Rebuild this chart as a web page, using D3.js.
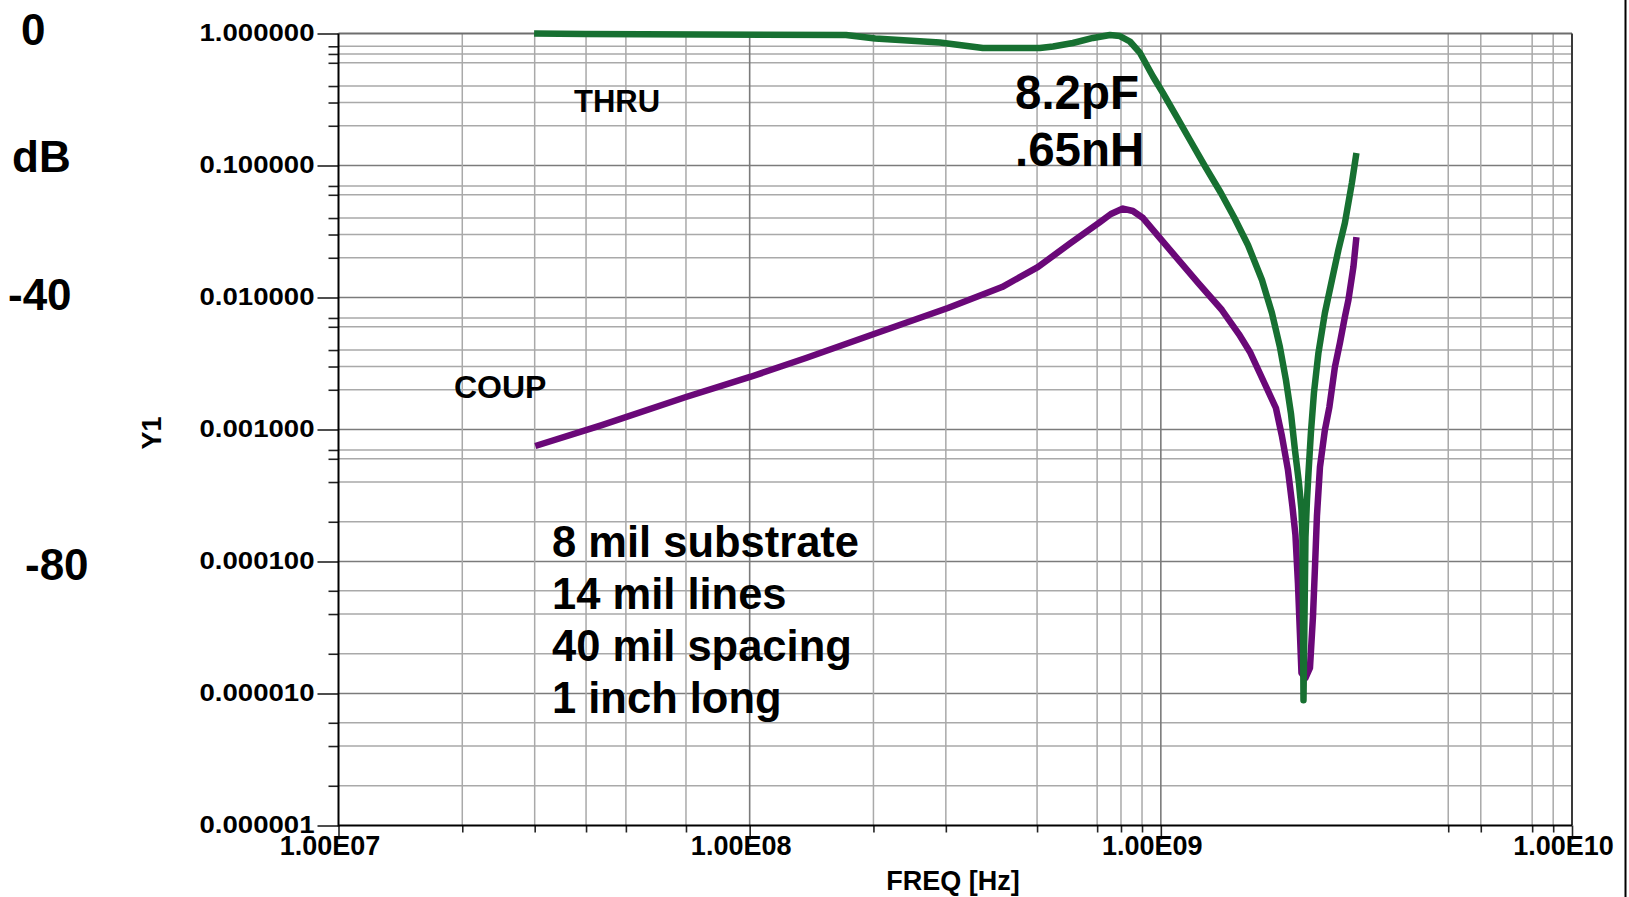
<!DOCTYPE html>
<html><head><meta charset="utf-8">
<script src="https://cdn.jsdelivr.net/npm/d3@7"></script>
<style>
html,body{margin:0;padding:0;background:#fff;}
svg{display:block;}
text{font-family:"Liberation Sans",Arial,sans-serif;font-weight:bold;fill:#000;}
</style></head><body>
<svg id="chart" width="1629" height="897"></svg>
<script>
// ---------- DATA ----------
const thruFreq = [2.99e7, 3.98e7, 7.57e7, 1.715e8, 2.02e8, 2.90e8, 3.69e8, 5.08e8, 5.47e8, 6.11e8, 6.84e8, 7.52e8, 7.95e8, 8.41e8, 8.90e8, 9.57e8, 1.012e9, 1.094e9, 1.177e9, 1.280e9, 1.400e9, 1.506e9, 1.629e9, 1.762e9, 1.863e9, 1.948e9, 2.015e9, 2.072e9, 2.119e9, 2.167e9, 2.198e9, 2.210e9, 2.223e9, 2.248e9, 2.267e9, 2.286e9, 2.317e9, 2.357e9, 2.417e9, 2.506e9, 2.607e9, 2.703e9, 2.803e9, 2.915e9, 2.990e9];
const thruVal = [1.000, 0.991, 0.983, 0.974, 0.917, 0.855, 0.776, 0.776, 0.797, 0.847, 0.925, 0.974, 0.957, 0.870, 0.712, 0.472, 0.354, 0.233, 0.156, 0.0991, 0.0619, 0.0407, 0.0250, 0.01357, 0.00763, 0.00422, 0.00237, 0.00133, 0.000700, 0.000394, 0.000246, 0.000153, 0.0000089, 0.000153, 0.000292, 0.000468, 0.000939, 0.00189, 0.00380, 0.00763, 0.01357, 0.0229, 0.0367, 0.0737, 0.1244];
const coupFreq = [3.01e7, 4.37e7, 7.00e7, 1.002e8, 1.371e8, 2.006e8, 3.035e8, 4.11e8, 5.02e8, 6.04e8, 7.07e8, 7.56e8, 8.09e8, 8.55e8, 9.05e8, 9.95e8, 1.088e9, 1.238e9, 1.408e9, 1.548e9, 1.647e9, 1.781e9, 1.905e9, 1.970e9, 2.038e9, 2.089e9, 2.125e9, 2.155e9, 2.179e9, 2.198e9, 2.248e9, 2.305e9, 2.344e9, 2.371e9, 2.397e9, 2.438e9, 2.506e9, 2.570e9, 2.651e9, 2.726e9, 2.803e9, 2.859e9, 2.940e9, 2.990e9];
const coupVal = [7.50e-4, 1.081e-3, 1.763e-3, 2.50e-3, 3.48e-3, 5.29e-3, 8.33e-3, 0.0120, 0.0170, 0.0259, 0.0367, 0.0429, 0.0472, 0.0452, 0.0400, 0.0282, 0.0203, 0.01266, 0.00804, 0.00529, 0.00387, 0.00229, 0.001455, 0.000893, 0.000493, 0.000263, 0.000159, 6.87e-5, 2.87e-5, 1.43e-5, 1.31e-5, 1.56e-5, 3.80e-5, 9.09e-5, 2.21e-4, 5.20e-4, 9.91e-4, 1.48e-3, 2.98e-3, 4.52e-3, 7.12e-3, 9.57e-3, 0.0170, 0.0287];

const yTickValues = [1, 0.1, 0.01, 0.001, 0.0001, 0.00001, 0.000001];
const yTickLabels = ["1.000000", "0.100000", "0.010000", "0.001000", "0.000100", "0.000010", "0.000001"];
const xTickValues = [1e7, 1e8, 1e9, 1e10];
const xTickLabels = ["1.00E07", "1.00E08", "1.00E09", "1.00E10"];
const yMinorGrid = [0.8, 0.7, 0.6, 0.4, 0.3, 0.2, 0.07, 0.06, 0.04, 0.03, 0.02, 0.007, 0.006, 0.004, 0.003, 0.002, 7e-4, 6e-4, 4e-4, 2e-4, 6e-5, 4e-5, 2e-5, 6e-6, 4e-6, 2e-6];
const xMinorGrid = [2e7, 3e7, 4e7, 5e7, 7e7, 2e8, 3e8, 5e8, 7e8, 8e8, 9e8, 5e9, 6e9, 8e9, 9e9];

const xAxisTitle = "FREQ [Hz]";
const yAxisTitle = "Y1";
const dbLabels = ["0", "dB", "-40", "-80"];
const seriesLabels = ["THRU", "COUP"];
const capNotes = ["8.2pF", ".65nH"];
const geomNotes = ["8 mil substrate", "14 mil lines", "40 mil spacing", "1 inch long"];

// ---------- CHART ----------
const svg = d3.select("#chart");
const x = d3.scaleLog().domain([1e7, 1e10]).range([338.5, 1572]);
const y = d3.scaleLog().domain([1e-6, 1]).range([825.5, 33.5]);
const [x0, x1] = x.range();
const [yb, yt] = y.range();

const GREEN = "#177031", PURPLE = "#6a0878";
const minorCol = "#a9a9a9", majorCol = "#7b7b7b";

// grid
const grid = svg.append("g");
grid.selectAll(".hm").data(yMinorGrid).join("line")
  .attr("x1", x0).attr("x2", x1).attr("y1", d => y(d)).attr("y2", d => y(d))
  .attr("stroke", minorCol).attr("stroke-width", 1.5);
grid.selectAll(".hM").data(yTickValues.slice(1, -1)).join("line")
  .attr("x1", x0).attr("x2", x1).attr("y1", d => y(d)).attr("y2", d => y(d))
  .attr("stroke", majorCol).attr("stroke-width", 1.6);
grid.selectAll(".vm").data(xMinorGrid).join("line")
  .attr("y1", yt).attr("y2", yb).attr("x1", d => x(d)).attr("x2", d => x(d))
  .attr("stroke", minorCol).attr("stroke-width", 1.5);
grid.selectAll(".vM").data(xTickValues.slice(1, -1)).join("line")
  .attr("y1", yt).attr("y2", yb).attr("x1", d => x(d)).attr("x2", d => x(d))
  .attr("stroke", majorCol).attr("stroke-width", 1.6);

// borders
svg.append("line").attr("x1", x0).attr("x2", x1).attr("y1", yt).attr("y2", yt)
  .attr("stroke", "#6e6e6e").attr("stroke-width", 2);
svg.append("line").attr("x1", x1).attr("x2", x1).attr("y1", yt).attr("y2", yb)
  .attr("stroke", "#3a3a3a").attr("stroke-width", 2);

// axes: minor ticks
svg.append("g").attr("transform", `translate(${x0},0)`)
  .call(d3.axisLeft(y).tickValues(yMinorGrid).tickSize(10).tickFormat(""))
  .call(g => g.select(".domain").remove())
  .call(g => g.selectAll("line").attr("stroke", "#222").attr("stroke-width", 1.6));
svg.append("g").attr("transform", `translate(0,${yb})`)
  .call(d3.axisBottom(x).tickValues(xMinorGrid).tickSize(7).tickFormat(""))
  .call(g => g.select(".domain").remove())
  .call(g => g.selectAll("line").attr("stroke", "#222").attr("stroke-width", 1.6));

// axes: major ticks + labels
svg.append("g").attr("transform", `translate(${x0},0)`)
  .call(d3.axisLeft(y).tickValues(yTickValues).tickSize(21).tickPadding(3)
    .tickFormat((d, i) => yTickLabels[i]))
  .call(g => g.select(".domain").remove())
  .call(g => g.selectAll("line").attr("stroke", "#222").attr("stroke-width", 1.6))
  .call(g => g.selectAll("text").attr("font-size", 24).attr("font-weight", "bold")
    .attr("font-family", '"Liberation Sans", Arial, sans-serif').attr("fill", "#000")
    .attr("dy", 7).attr("textLength", 115).attr("lengthAdjust", "spacingAndGlyphs"));
svg.append("g").attr("transform", `translate(0,${yb})`)
  .call(d3.axisBottom(x).tickValues(xTickValues).tickSize(14)
    .tickFormat((d, i) => xTickLabels[i]))
  .call(g => g.select(".domain").remove())
  .call(g => g.selectAll("line").attr("stroke", "#222").attr("stroke-width", 1.6))
  .call(g => g.selectAll("text").attr("font-size", 27).attr("font-weight", "bold")
    .attr("font-family", '"Liberation Sans", Arial, sans-serif').attr("fill", "#000")
    .attr("y", 29.5).attr("dy", 0).attr("dx", -9));

// axis lines
svg.append("line").attr("x1", x0).attr("x2", x0).attr("y1", yt).attr("y2", yb + 1)
  .attr("stroke", "#000").attr("stroke-width", 2);
svg.append("line").attr("x1", x0).attr("x2", x1).attr("y1", yb).attr("y2", yb)
  .attr("stroke", "#000").attr("stroke-width", 2);

// outer right line
svg.append("line").attr("x1", 1625.5).attr("x2", 1625.5).attr("y1", 0).attr("y2", 897)
  .attr("stroke", "#000").attr("stroke-width", 2);

// series
const line = d3.line().x(d => x(d[0])).y(d => y(d[1]));
const thru = thruFreq.map((f, i) => [f, thruVal[i]]);
const coup = coupFreq.map((f, i) => [f, coupVal[i]]);
svg.append("path").attr("d", line(coup)).attr("fill", "none")
  .attr("stroke", PURPLE).attr("stroke-width", 6.5).attr("stroke-linejoin", "round");
svg.append("path").attr("d", line(thru)).attr("fill", "none")
  .attr("stroke", GREEN).attr("stroke-width", 6.5).attr("stroke-linejoin", "round");

// axis titles
svg.append("text").attr("x", 953).attr("y", 890).attr("text-anchor", "middle")
  .attr("font-size", 27).text(xAxisTitle);
svg.append("text").attr("transform", "translate(161,433) rotate(-90)")
  .attr("text-anchor", "middle").attr("font-size", 27).text(yAxisTitle);

// dB labels
const dbPos = [[21, 45], [12, 172], [8, 310], [25, 580]];
dbLabels.forEach((t, i) => svg.append("text").attr("x", dbPos[i][0]).attr("y", dbPos[i][1])
  .attr("font-size", 44).text(t));

// series labels
svg.append("text").attr("x", 574).attr("y", 112).attr("font-size", 31).text(seriesLabels[0]);
svg.append("text").attr("x", 454).attr("y", 398).attr("font-size", 32).text(seriesLabels[1]);

// capacitance notes
capNotes.forEach((t, i) => svg.append("text").attr("x", 1015).attr("y", 108.5 + i * 57)
  .attr("font-size", 47.5).text(t));

// geometry notes
geomNotes.forEach((t, i) => svg.append("text").attr("x", 552).attr("y", 557 + i * 52)
  .attr("font-size", 43.5).text(t));
</script>
</body></html>
